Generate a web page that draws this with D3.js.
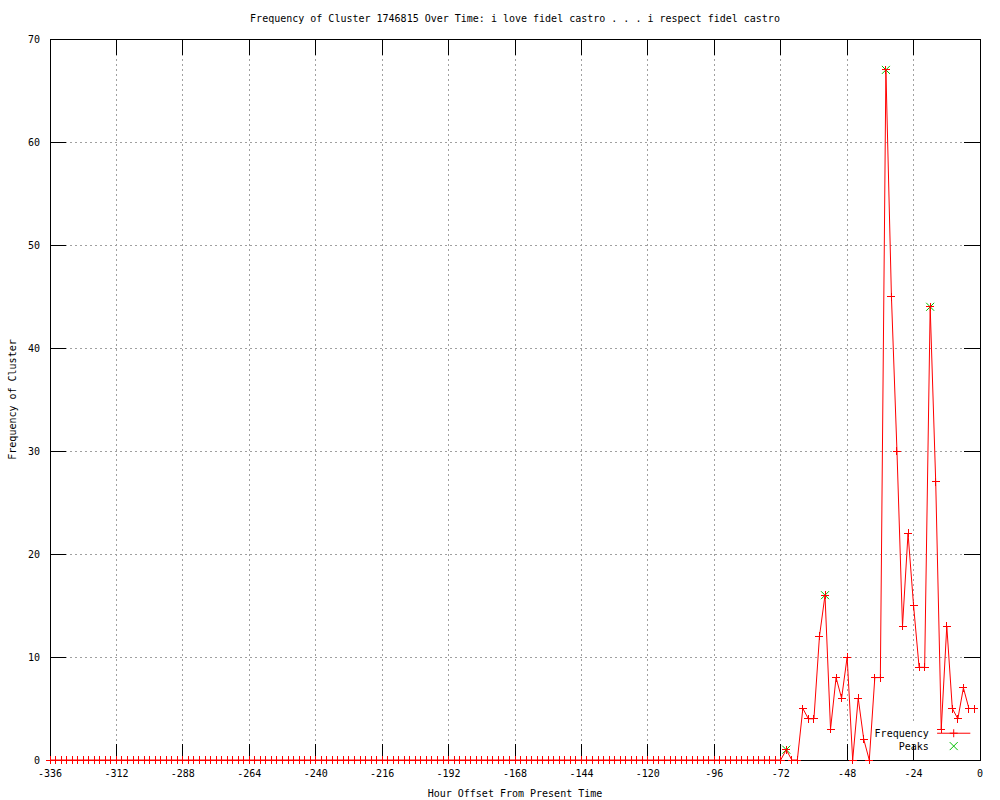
<!DOCTYPE html>
<html>
<head>
<meta charset="utf-8">
<script src="https://cdn.jsdelivr.net/npm/d3@7"></script>
<style>
  body { margin: 0; background: #fff; }
  text { font-family: "DejaVu Sans Mono", "Liberation Mono", monospace; font-size: 10px; fill: #000; }
</style>
</head>
<body>
<div id="chart"></div>
<script>
// hours before now, every 2 hours, all zero until -72
const zeroHours = d3.range(-336, -70, 2);
const activeHours = [-70, -68, -66, -64, -62, -60, -58, -56, -54, -52, -50, -48, -46, -44, -42, -40,
    -38, -36, -34, -32, -30, -28, -26, -24, -22, -20, -18, -16, -14, -12, -10, -8, -6, -4, -2];
const activeFreq = [1, 0, 0, 5, 4, 4, 12, 16, 3, 8, 6, 10, 0, 6, 2, 0,
    8, 8, 67, 45, 30, 13, 22, 15, 9, 9, 44, 27, 3, 13, 5, 4, 7, 5, 5];
const peakHours = [-70, -56, -34, -18];
const peakFreq = [1, 16, 67, 44];
const xTicks = d3.range(-336, 1, 24);
const yTicks = d3.range(0, 71, 10);

const freqData = zeroHours.map(h => ({ h: h, v: 0 }))
    .concat(activeHours.map((h, i) => ({ h: h, v: activeFreq[i] })));
const peakData = peakHours.map((h, i) => ({ h: h, v: peakFreq[i] }));

const margin = { top: 39, right: 20, bottom: 40, left: 50 };
const W = 1000, H = 800;
const width = W - margin.left - margin.right;
const height = H - margin.top - margin.bottom;

const svg = d3.select("#chart").append("svg")
    .attr("width", W).attr("height", H);

const g = svg.append("g")
    .attr("transform", "translate(" + margin.left + "," + margin.top + ")");

const x = d3.scaleLinear().domain([-336, 0]).range([0, width]);
const y = d3.scaleLinear().domain([0, 70]).range([height, 0]);

// grid
g.append("g").selectAll("line").data(xTicks.slice(1, -1)).enter().append("line")
    .attr("x1", d => x(d)).attr("x2", d => x(d))
    .attr("y1", 0).attr("y2", height)
    .attr("stroke", "#a0a0a0").attr("stroke-dasharray", "2,3").attr("shape-rendering", "crispEdges");
g.append("g").selectAll("line").data(yTicks.slice(1, -1)).enter().append("line")
    .attr("y1", d => y(d)).attr("y2", d => y(d))
    .attr("x1", 0).attr("x2", width)
    .attr("stroke", "#a0a0a0").attr("stroke-dasharray", "2,3").attr("shape-rendering", "crispEdges");

// key background
g.append("rect")
    .attr("x", x(-40)).attr("y", y(3.7)).attr("width", x(-2) - x(-40)).attr("height", y(0.4) - y(3.7))
    .attr("fill", "#fff");

// ticks on all sides (inward)
const tickLen = 16;
const ticks = g.append("g").attr("stroke", "#000").attr("shape-rendering", "crispEdges");
xTicks.forEach(t => {
    ticks.append("line").attr("x1", x(t)).attr("x2", x(t)).attr("y1", height).attr("y2", height - tickLen);
    ticks.append("line").attr("x1", x(t)).attr("x2", x(t)).attr("y1", 0).attr("y2", tickLen);
});
yTicks.forEach(t => {
    ticks.append("line").attr("y1", y(t)).attr("y2", y(t)).attr("x1", 0).attr("x2", tickLen);
    ticks.append("line").attr("y1", y(t)).attr("y2", y(t)).attr("x1", width).attr("x2", width - tickLen);
});

// tick labels
g.append("g").selectAll("text").data(xTicks).enter().append("text")
    .attr("x", d => x(d)).attr("y", height + 17)
    .attr("text-anchor", "middle").text(d => d);
g.append("g").selectAll("text").data(yTicks).enter().append("text")
    .attr("x", -10).attr("y", d => y(d) + 4)
    .attr("text-anchor", "end").text(d => d);

// plot frame
g.append("rect").attr("width", width).attr("height", height)
    .attr("fill", "none").attr("stroke", "#000").attr("shape-rendering", "crispEdges");

// peaks (green x)
const xs = 4;
g.append("g").selectAll("path").data(peakData).enter().append("path")
    .attr("d", d => {
        const cx = x(d.h), cy = y(d.v);
        return `M${cx - xs},${cy - xs}L${cx + xs},${cy + xs}M${cx - xs},${cy + xs}L${cx + xs},${cy - xs}`;
    })
    .attr("stroke", "#00c000").attr("fill", "none");

// frequency line
const line = d3.line().x(d => x(d.h)).y(d => y(d.v));
g.append("path").datum(freqData)
    .attr("d", line)
    .attr("fill", "none").attr("stroke", "#ff0000").attr("stroke-width", 1);

const ps = 4;
g.append("g").selectAll("path").data(freqData).enter().append("path")
    .attr("d", d => {
        const cx = x(d.h), cy = y(d.v);
        return `M${cx - ps},${cy}L${cx + ps},${cy}M${cx},${cy - ps}L${cx},${cy + ps}`;
    })
    .attr("stroke", "#ff0000").attr("fill", "none").attr("shape-rendering", "crispEdges");

// key
const key = g.append("g");
key.append("text").attr("x", x(-18.5)).attr("y", y(2.6) + 4).attr("text-anchor", "end").text("Frequency");
key.append("line").attr("x1", x(-15.5)).attr("x2", x(-3.5)).attr("y1", y(2.6)).attr("y2", y(2.6))
    .attr("stroke", "#ff0000");
key.append("path")
    .attr("d", `M${x(-9.5) - ps},${y(2.6)}L${x(-9.5) + ps},${y(2.6)}M${x(-9.5)},${y(2.6) - ps}L${x(-9.5)},${y(2.6) + ps}`)
    .attr("stroke", "#ff0000");
key.append("text").attr("x", x(-18.5)).attr("y", y(1.35) + 4).attr("text-anchor", "end").text("Peaks");
key.append("path")
    .attr("d", `M${x(-9.5) - xs},${y(1.35) - xs}L${x(-9.5) + xs},${y(1.35) + xs}M${x(-9.5) - xs},${y(1.35) + xs}L${x(-9.5) + xs},${y(1.35) - xs}`)
    .attr("stroke", "#00c000");

// titles
svg.append("text").attr("x", margin.left + width / 2).attr("y", 22)
    .attr("text-anchor", "middle")
    .text("Frequency of Cluster 1746815 Over Time: i love fidel castro . . . i respect fidel castro");
svg.append("text").attr("x", margin.left + width / 2).attr("y", 797)
    .attr("text-anchor", "middle").text("Hour Offset From Present Time");
svg.append("text")
    .attr("transform", "translate(16," + (margin.top + height / 2) + ") rotate(-90)")
    .attr("text-anchor", "middle").text("Frequency of Cluster");
</script>
</body>
</html>
